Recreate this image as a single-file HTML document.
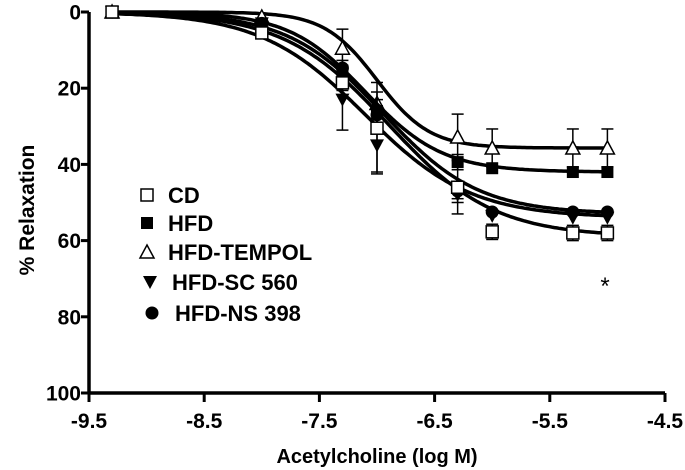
<!DOCTYPE html>
<html><head><meta charset="utf-8">
<style>
html,body{margin:0;padding:0;background:#fff;}
svg{display:block;font-family:"Liberation Sans",Arial,sans-serif;font-weight:bold;}
</style></head>
<body>
<svg id="chart" width="685" height="470" viewBox="0 0 685 470"></svg>
<script>
const xValues = [-9.3, -8.0, -7.3, -7.0, -6.3, -6.0, -5.3, -5.0];
const seriesNames = ["CD", "HFD", "HFD-TEMPOL", "HFD-SC 560", "HFD-NS 398"];
const cdValues = [0, 5.5, 18.6, 30.5, 46, 57.7, 58, 58];
const hfdValues = [0, 3, 16, 26, 39.4, 41, 42, 42];
const tempolValues = [0, 1.3, 9.5, 24, 32.8, 35.7, 35.7, 35.7];
const sc560Values = [0, 3, 23, 35, 48, 53.5, 54, 54];
const ns398Values = [0, 3, 14.7, 27, 47, 52.5, 52.5, 52.5];
const cdErr = [0, 1, 2, 12, 7, 2, 2, 2];
const hfdErr = [0, 1, 2, 3, 2, 1, 1, 1];
const tempolErr = [0, 1, 5, 3, 6, 5, 5, 5];
const sc560Err = [0, 1, 8, 7, 2, 1, 1, 1];
const ns398Err = [0, 1, 2, 2, 2, 1, 1, 1];
// fitted curve parameters: [top, logEC50, hill]
const cdFit = [59, -6.9, 0.95];
const hfdFit = [42, -7.1, 1.3];
const tempolFit = [35.7, -7.0, 1.9];
const sc560Fit = [54, -7.1, 0.95];
const ns398Fit = [53, -6.95, 1.05];
const xTicks = [-9.5, -8.5, -7.5, -6.5, -5.5, -4.5];
const yTicks = [0, 20, 40, 60, 80, 100];

const NS = "http://www.w3.org/2000/svg";
const svg = document.getElementById("chart");
const X0 = 89, X1 = 665, Y0 = 12, Y1 = 393;
const xs = v => X0 + (v + 9.5) / 5 * (X1 - X0);
const ys = v => Y0 + v / 100 * (Y1 - Y0);
function el(tag, attrs, parent) {
  const e = document.createElementNS(NS, tag);
  for (const k in attrs) e.setAttribute(k, attrs[k]);
  (parent || svg).appendChild(e);
  return e;
}
const axes = el("g", {});


el("line", {x1: X0, y1: Y0, x2: X0, y2: Y1, stroke: "#000", "stroke-width": 3.5}, axes);
el("line", {x1: X0 - 1.5, y1: Y1, x2: X1, y2: Y1, stroke: "#000", "stroke-width": 3.5}, axes);
yTicks.forEach(t => {
  el("line", {x1: X0 - 8, y1: ys(t), x2: X0, y2: ys(t), stroke: "#000", "stroke-width": 3}, axes);
  const tx = el("text", {x: X0 - 8, y: ys(t) + 7.5, "text-anchor": "end", "font-size": 21}, axes);
  tx.textContent = t;
  
  
});
xTicks.forEach(t => {
  el("line", {x1: xs(t), y1: Y1, x2: xs(t), y2: Y1 + 9, stroke: "#000", "stroke-width": 3}, axes);
  const tx = el("text", {x: xs(t), y: Y1 + 35, "text-anchor": "middle", "font-size": 21}, axes);
  tx.textContent = t.toFixed(1);
  
  
});
const xt = el("text", {x: 377, y: 463, "text-anchor": "middle", "font-size": 20});
xt.textContent = "Acetylcholine (log M)";


const yt = el("text", {x: 0, y: 0, "text-anchor": "middle", "font-size": 21, transform: "translate(34,210) rotate(-90)"});
yt.textContent = "% Relaxation";



function marker(type, cx, cy, s, parent) {
  if (type === 0) return el("rect", {x: cx - s, y: cy - s, width: 2 * s, height: 2 * s, fill: "#fff", stroke: "#000", "stroke-width": 1.5}, parent);
  if (type === 1) return el("rect", {x: cx - s, y: cy - s, width: 2 * s, height: 2 * s, fill: "#000"}, parent);
  if (type === 2) return el("polygon", {points: `${cx},${cy - s - 1} ${cx - s - 1},${cy + s} ${cx + s + 1},${cy + s}`, fill: "#fff", stroke: "#000", "stroke-width": 1.5}, parent);
  if (type === 3) return el("polygon", {points: `${cx - s - 1},${cy - s} ${cx + s + 1},${cy - s} ${cx},${cy + s + 1}`, fill: "#000"}, parent);
  return el("circle", {cx: cx, cy: cy, r: s + 0.5, fill: "#000"}, parent);
}
const allVals = [cdValues, hfdValues, tempolValues, sc560Values, ns398Values];
const allErr = [cdErr, hfdErr, tempolErr, sc560Err, ns398Err];
const allFit = [cdFit, hfdFit, tempolFit, sc560Fit, ns398Fit];
const order = [2, 1, 4, 3, 0];
order.forEach(i => {
  const g = el("g", {});
  
  
  const [top, ec, h] = allFit[i];
  let d = "";
  for (let lx = xValues[0]; lx <= xValues[xValues.length - 1] + 0.001; lx += 0.02) {
    const v = top / (1 + Math.pow(10, (ec - lx) * h));
    d += (d ? "L" : "M") + xs(lx).toFixed(1) + "," + ys(v).toFixed(1);
  }
  el("path", {d: d, fill: "none", stroke: "#000", "stroke-width": 3.5}, g);
  xValues.forEach((xv, j) => {
    const v = allVals[i][j], e = allErr[i][j];
    if (e > 1.5) {
      const px = xs(xv);
      el("line", {x1: px, y1: ys(v - e), x2: px, y2: ys(v + e), stroke: "#000", "stroke-width": 1.5}, g);
      el("line", {x1: px - 6, y1: ys(v - e), x2: px + 6, y2: ys(v - e), stroke: "#000", "stroke-width": 1.5}, g);
      el("line", {x1: px - 6, y1: ys(v + e), x2: px + 6, y2: ys(v + e), stroke: "#000", "stroke-width": 1.5}, g);
    }
    const m = marker(i, xs(xv), ys(v), 6, g);
    
    
  });
});
const star = el("text", {x: 605, y: 294, "text-anchor": "middle", "font-size": 24, "font-weight": "normal"});
star.textContent = "*";



const legY = [195, 223, 252, 282, 313];
const legMX = [147, 147, 147, 150, 152];
const legTX = [168, 168, 168, 172, 175];
const leg = el("g", {});


seriesNames.forEach((n, i) => {
  const m = marker(i, legMX[i], legY[i], 6, leg);
  
  
  const t = el("text", {x: legTX[i], y: legY[i] + 8, "font-size": 22}, leg);
  t.textContent = n;
  
  
});
</script>
</body></html>
